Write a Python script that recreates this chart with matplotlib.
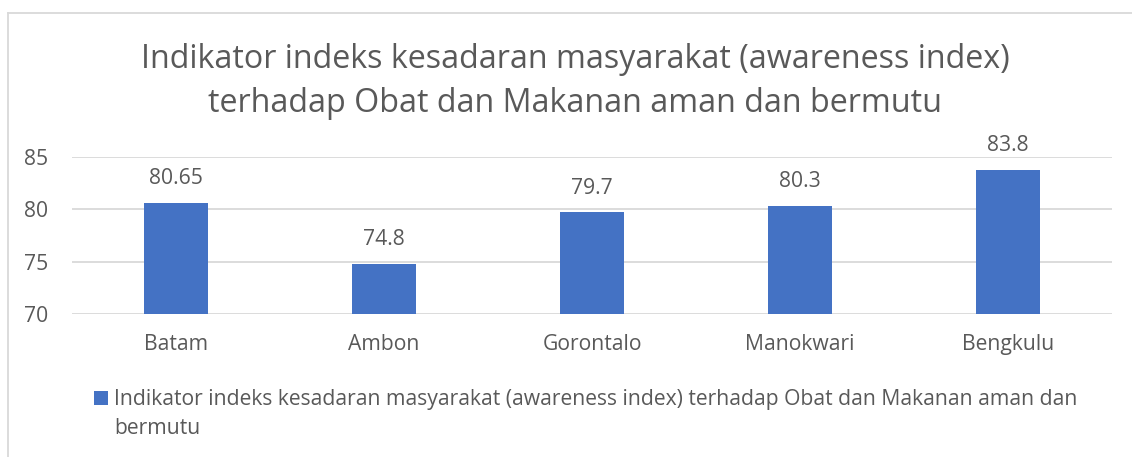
import numpy as np
import matplotlib.pyplot as plt
from matplotlib.lines import Line2D

plt.rcParams['font.family'] = ['Open Sans', 'DejaVu Sans']

# data
cities = ['Batam', 'Ambon', 'Gorontalo', 'Manokwari', 'Bengkulu']
awareness = [80.65, 74.8, 79.7, 80.3, 83.8]
value_labels = ['80.65', '74.8', '79.7', '80.3', '83.8']
yticks = [70, 75, 80, 85]

title_lines = ['Indikator indeks kesadaran masyarakat (awareness index)',
               'terhadap Obat dan Makanan aman dan bermutu']
legend_line1 = 'Indikator indeks kesadaran masyarakat (awareness index) terhadap Obat dan Makanan aman dan'
legend_line2 = 'bermutu'

txt = '#595959'
blue = '#4472C4'
grid_c = '#D9D9D9'
fs = 15.2

W, H = 1132, 457
fig = plt.figure(figsize=(W / 100, H / 100), dpi=100)
ax = fig.add_axes([72 / W, 1 - 314 / H, (1112 - 72) / W, (314 - 157) / H])

x = np.arange(len(cities))
bars = ax.bar(x, awareness, width=0.31, color=blue, zorder=3, label=legend_line1)
ax.set_ylim(70, 85)
ax.set_xlim(-0.5, len(cities) - 0.5)
ax.set_yticks(yticks)
ax.set_xticks(x)
ax.set_xticklabels(cities)
ax.tick_params(length=0, labelsize=fs, colors=txt)
ax.tick_params(axis='y', pad=17)
ax.tick_params(axis='x', pad=14.5)
ax.grid(axis='y', color=grid_c, linewidth=1.3, zorder=0)
for s in ax.spines.values():
    s.set_visible(False)

for xi, v, lab in zip(x, awareness, value_labels):
    ax.annotate(lab, (xi, v), xytext=(0, 17.5), textcoords='offset points',
                ha='center', va='center', fontsize=fs, color=txt)

# title
fig.text(575 / W, 1 - 60 / H, title_lines[0], ha='center', va='center', fontsize=23.2, color=txt)
fig.text(575 / W, 1 - 103 / H, title_lines[1], ha='center', va='center', fontsize=23.2, color=txt)

# legend
leg = ax.legend(loc='center left', bbox_to_anchor=(94 / W, 1 - 400 / H),
                bbox_transform=fig.transFigure, frameon=False, fontsize=fs,
                handlelength=0.67, handleheight=0.67, handletextpad=0.29,
                borderpad=0, borderaxespad=0)
for t in leg.get_texts():
    t.set_color(txt)
fig.text(114 / W, 1 - 429 / H, legend_line2, ha='left', va='center', fontsize=fs, color=txt)

# chart border
fig.add_artist(Line2D([8 / W, 8 / W], [0, 1 - 13 / H], transform=fig.transFigure, color=grid_c, lw=1.3))
fig.add_artist(Line2D([8 / W, 1], [1 - 13 / H, 1 - 13 / H], transform=fig.transFigure, color=grid_c, lw=1.3))

fig.savefig('out.png', dpi=100)
